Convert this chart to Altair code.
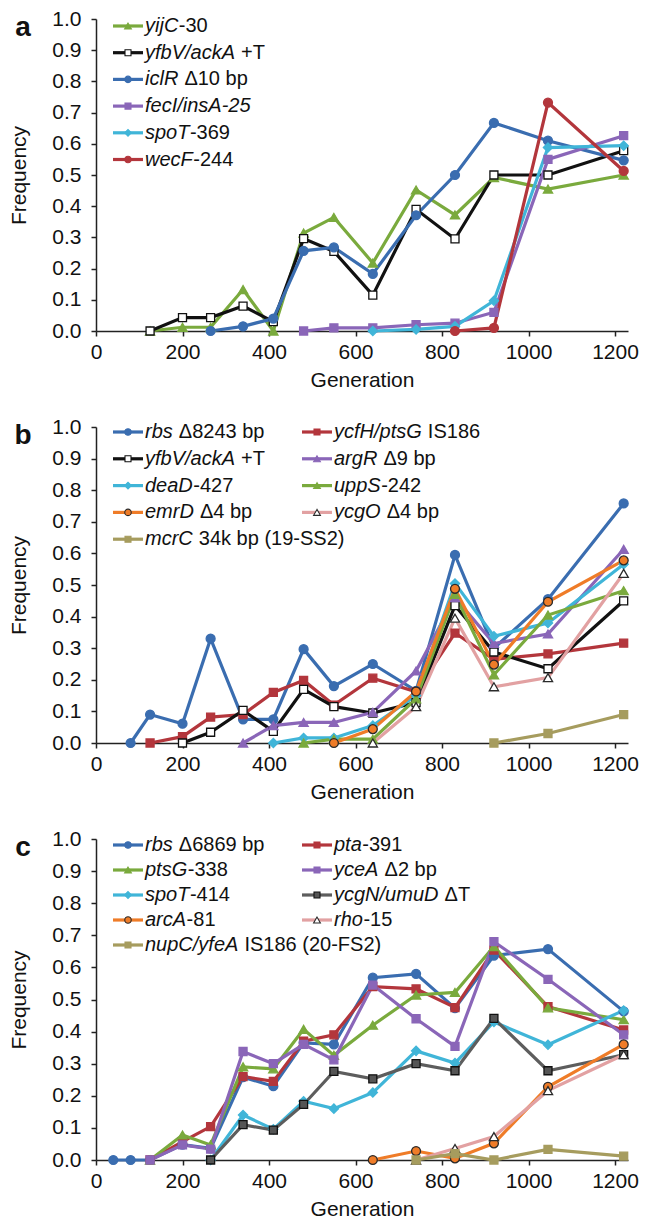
import altair as alt
import pandas as pd

# ---------------- panel a ----------------
a_yijC_gen = [125, 200, 265, 340, 410, 480, 550, 640, 740, 830, 920, 1045, 1220]
a_yijC_freq = [0.0, 0.012, 0.012, 0.133, 0.0, 0.314, 0.364, 0.218, 0.452, 0.372, 0.492, 0.455, 0.500]
a_yfbV_gen = [125, 200, 265, 340, 410, 480, 550, 640, 740, 830, 920, 1045, 1220]
a_yfbV_freq = [0.0, 0.043, 0.043, 0.080, 0.030, 0.296, 0.255, 0.115, 0.390, 0.295, 0.500, 0.500, 0.578]
a_iclR_gen = [265, 340, 410, 480, 550, 640, 740, 830, 920, 1045, 1220]
a_iclR_freq = [0.0, 0.015, 0.040, 0.257, 0.268, 0.183, 0.371, 0.500, 0.667, 0.610, 0.547]
a_fecI_gen = [480, 550, 640, 740, 830, 920, 1045, 1220]
a_fecI_freq = [0.0, 0.010, 0.010, 0.020, 0.025, 0.060, 0.550, 0.626]
a_spoT_gen = [640, 740, 830, 920, 1045, 1220]
a_spoT_freq = [0.0, 0.005, 0.015, 0.097, 0.588, 0.594]
a_wecF_gen = [830, 920, 1045, 1220]
a_wecF_freq = [0.0, 0.010, 0.732, 0.513]

# ---------------- panel b ----------------
b_rbs_gen = [80, 125, 200, 265, 340, 410, 480, 550, 640, 740, 830, 920, 1045, 1220]
b_rbs_freq = [0.0, 0.090, 0.061, 0.330, 0.075, 0.075, 0.297, 0.180, 0.250, 0.165, 0.595, 0.300, 0.455, 0.758]
b_ycfH_gen = [125, 200, 265, 340, 410, 480, 550, 640, 740, 830, 920, 1045, 1220]
b_ycfH_freq = [0.0, 0.020, 0.082, 0.090, 0.160, 0.198, 0.120, 0.205, 0.162, 0.348, 0.265, 0.282, 0.316]
b_yfbV_gen = [200, 265, 340, 410, 480, 550, 640, 740, 830, 920, 1045, 1220]
b_yfbV_freq = [0.0, 0.034, 0.103, 0.037, 0.170, 0.115, 0.095, 0.128, 0.435, 0.288, 0.235, 0.450]
b_argR_gen = [340, 410, 480, 550, 640, 740, 830, 920, 1045, 1220]
b_argR_freq = [0.0, 0.055, 0.065, 0.065, 0.097, 0.228, 0.460, 0.315, 0.345, 0.613]
b_deaD_gen = [410, 480, 550, 640, 740, 830, 920, 1045, 1220]
b_deaD_freq = [0.0, 0.016, 0.016, 0.055, 0.150, 0.505, 0.338, 0.380, 0.566]
b_uppS_gen = [480, 550, 640, 740, 830, 920, 1045, 1220]
b_uppS_freq = [0.0, 0.012, 0.012, 0.140, 0.470, 0.216, 0.405, 0.482]
b_emrD_gen = [550, 640, 740, 830, 920, 1045, 1220]
b_emrD_freq = [0.0, 0.044, 0.163, 0.488, 0.248, 0.447, 0.578]
b_ycgO_gen = [640, 740, 830, 920, 1045, 1220]
b_ycgO_freq = [0.0, 0.115, 0.395, 0.178, 0.207, 0.537]
b_mcrC_gen = [920, 1045, 1220]
b_mcrC_freq = [0.0, 0.030, 0.090]

# ---------------- panel c ----------------
c_rbs_gen = [40, 80, 125, 200, 265, 340, 410, 480, 550, 640, 740, 830, 920, 1045, 1220]
c_rbs_freq = [0.0, 0.0, 0.0, 0.048, 0.036, 0.258, 0.230, 0.365, 0.360, 0.568, 0.580, 0.473, 0.637, 0.657, 0.463]
c_pta_gen = [125, 200, 265, 340, 410, 480, 550, 640, 740, 830, 920, 1045, 1220]
c_pta_freq = [0.0, 0.057, 0.104, 0.260, 0.245, 0.370, 0.390, 0.540, 0.533, 0.475, 0.654, 0.478, 0.405]
c_ptsG_gen = [125, 200, 265, 340, 410, 480, 550, 640, 740, 830, 920, 1045, 1220]
c_ptsG_freq = [0.0, 0.078, 0.047, 0.290, 0.284, 0.407, 0.326, 0.420, 0.514, 0.522, 0.665, 0.474, 0.437]
c_yceA_gen = [125, 200, 265, 340, 410, 480, 550, 640, 740, 830, 920, 1045, 1220]
c_yceA_freq = [0.0, 0.047, 0.034, 0.338, 0.300, 0.360, 0.312, 0.545, 0.440, 0.354, 0.680, 0.563, 0.390]
c_spoT_gen = [265, 340, 410, 480, 550, 640, 740, 830, 920, 1045, 1220]
c_spoT_freq = [0.0, 0.140, 0.096, 0.183, 0.160, 0.210, 0.340, 0.302, 0.430, 0.359, 0.466]
c_ycgN_gen = [265, 340, 410, 480, 550, 640, 740, 830, 920, 1045, 1220]
c_ycgN_freq = [0.0, 0.110, 0.093, 0.173, 0.276, 0.253, 0.300, 0.278, 0.441, 0.278, 0.328]
c_arcA_gen = [640, 740, 830, 920, 1045, 1220]
c_arcA_freq = [0.0, 0.028, 0.005, 0.052, 0.228, 0.360]
c_rho_gen = [740, 830, 920, 1045, 1220]
c_rho_freq = [0.0, 0.036, 0.073, 0.216, 0.328]
c_nupC_gen = [740, 830, 920, 1045, 1220]
c_nupC_freq = [0.0, 0.020, 0.0, 0.033, 0.012]

# legend labels: italic part, roman part
a_label_it = ["yijC", "yfbV/ackA", "iclR", "fecI/insA-25", "spoT", "wecF"]
a_label_rest = ["-30", " +T", " Δ10 bp", "", "-369", "-244"]
b_label_it = ["rbs", "ycfH/ptsG", "yfbV/ackA", "argR", "deaD", "uppS", "emrD", "ycgO", "mcrC"]
b_label_rest = [" Δ8243 bp", " IS186", " +T", " Δ9 bp", "-427", "-242", " Δ4 bp", " Δ4 bp", " 34k bp (19-SS2)"]
c_label_it = ["rbs", "pta", "ptsG", "yceA", "spoT", "ycgN/umuD", "arcA", "rho", "nupC/yfeA"]
c_label_rest = [" Δ6869 bp", "-391", "-338", " Δ2 bp", "-414", " ΔT", "-81", "-15", " IS186 (20-FS2)"]

x_ticks = [0, 200, 400, 600, 800, 1000, 1200]
y_ticks = [0.0, 0.1, 0.2, 0.3, 0.4, 0.5, 0.6, 0.7, 0.8, 0.9, 1.0]

# ---------------- styling ----------------
FONT = "Liberation Sans"
GEN_MAX = 1230
W = 532
BLUE, RED, GREEN, PURPLE = "#3A6DB0", "#B3363C", "#7AAA3D", "#8A66B8"
CYAN, ORANGE, PINK, OLIVE = "#40B5D8", "#EF7C28", "#E2A1A2", "#A69C5E"
BLACK, GREY, DARK = "#111111", "#5D5D5D", "#2a2a2a"

ARIAL = {
    'a': 556, 'b': 556, 'c': 500, 'd': 556, 'e': 556, 'f': 278, 'g': 556, 'h': 556, 'i': 222,
    'j': 222, 'k': 500, 'l': 222, 'm': 833, 'n': 556, 'o': 556, 'p': 556, 'q': 556, 'r': 333,
    's': 500, 't': 278, 'u': 556, 'v': 500, 'w': 722, 'x': 500, 'y': 500, 'z': 500,
    'A': 667, 'B': 667, 'C': 722, 'D': 722, 'E': 667, 'F': 611, 'G': 778, 'H': 722, 'I': 278,
    'J': 500, 'K': 667, 'L': 556, 'M': 833, 'N': 722, 'O': 778, 'P': 667, 'Q': 778, 'R': 722,
    'S': 667, 'T': 611, 'U': 722, 'V': 667, 'W': 944, 'X': 667, 'Y': 667, 'Z': 611,
    ' ': 278, '-': 333, '/': 278, '+': 584, '(': 333, ')': 333, '.': 278,
}


def text_width(s, size):
    return sum(ARIAL.get(ch, 556) for ch in s) * size / 1000.0


def spec(prefix, it, rest, gen, freq, color, shape, fill, stroke):
    return dict(name=prefix + it + rest, it=it, rest=rest, gen=gen, freq=freq,
                color=color, shape=shape, fill=fill, stroke=stroke)


SIZE = {"circle": 80, "square": 64, "triangle-up": 85, "diamond": 85}
LSIZE = {"circle": 42, "square": 36, "triangle-up": 46, "diamond": 46}

series_a = [
    spec("a:", a_label_it[0], a_label_rest[0], a_yijC_gen, a_yijC_freq, GREEN, "triangle-up", GREEN, GREEN),
    spec("a:", a_label_it[1], a_label_rest[1], a_yfbV_gen, a_yfbV_freq, BLACK, "square", "white", BLACK),
    spec("a:", a_label_it[2], a_label_rest[2], a_iclR_gen, a_iclR_freq, BLUE, "circle", BLUE, BLUE),
    spec("a:", a_label_it[3], a_label_rest[3], a_fecI_gen, a_fecI_freq, PURPLE, "square", PURPLE, PURPLE),
    spec("a:", a_label_it[4], a_label_rest[4], a_spoT_gen, a_spoT_freq, CYAN, "diamond", CYAN, CYAN),
    spec("a:", a_label_it[5], a_label_rest[5], a_wecF_gen, a_wecF_freq, RED, "circle", RED, RED),
]
series_b = [
    spec("b:", b_label_it[0], b_label_rest[0], b_rbs_gen, b_rbs_freq, BLUE, "circle", BLUE, BLUE),
    spec("b:", b_label_it[1], b_label_rest[1], b_ycfH_gen, b_ycfH_freq, RED, "square", RED, RED),
    spec("b:", b_label_it[2], b_label_rest[2], b_yfbV_gen, b_yfbV_freq, BLACK, "square", "white", BLACK),
    spec("b:", b_label_it[3], b_label_rest[3], b_argR_gen, b_argR_freq, PURPLE, "triangle-up", PURPLE, PURPLE),
    spec("b:", b_label_it[4], b_label_rest[4], b_deaD_gen, b_deaD_freq, CYAN, "diamond", CYAN, CYAN),
    spec("b:", b_label_it[5], b_label_rest[5], b_uppS_gen, b_uppS_freq, GREEN, "triangle-up", GREEN, GREEN),
    spec("b:", b_label_it[6], b_label_rest[6], b_emrD_gen, b_emrD_freq, ORANGE, "circle", ORANGE, DARK),
    spec("b:", b_label_it[7], b_label_rest[7], b_ycgO_gen, b_ycgO_freq, PINK, "triangle-up", "white", DARK),
    spec("b:", b_label_it[8], b_label_rest[8], b_mcrC_gen, b_mcrC_freq, OLIVE, "square", OLIVE, OLIVE),
]
series_c = [
    spec("c:", c_label_it[0], c_label_rest[0], c_rbs_gen, c_rbs_freq, BLUE, "circle", BLUE, BLUE),
    spec("c:", c_label_it[1], c_label_rest[1], c_pta_gen, c_pta_freq, RED, "square", RED, RED),
    spec("c:", c_label_it[2], c_label_rest[2], c_ptsG_gen, c_ptsG_freq, GREEN, "triangle-up", GREEN, GREEN),
    spec("c:", c_label_it[3], c_label_rest[3], c_yceA_gen, c_yceA_freq, PURPLE, "square", PURPLE, PURPLE),
    spec("c:", c_label_it[4], c_label_rest[4], c_spoT_gen, c_spoT_freq, CYAN, "diamond", CYAN, CYAN),
    spec("c:", c_label_it[5], c_label_rest[5], c_ycgN_gen, c_ycgN_freq, GREY, "square", "#555555", BLACK),
    spec("c:", c_label_it[6], c_label_rest[6], c_arcA_gen, c_arcA_freq, ORANGE, "circle", ORANGE, DARK),
    spec("c:", c_label_it[7], c_label_rest[7], c_rho_gen, c_rho_freq, PINK, "triangle-up", "white", DARK),
    spec("c:", c_label_it[8], c_label_rest[8], c_nupC_gen, c_nupC_freq, OLIVE, "square", OLIVE, OLIVE),
]

LABEL_FS = 21
LEGEND_FS = 20


def panel(series, H, letter, ncols, first_row, row_gap, col_gap=189):
    px = W / GEN_MAX
    xs = alt.Scale(domain=[0, GEN_MAX], nice=False, zero=False)
    ys = alt.Scale(domain=[0, 1], nice=False, zero=False)
    xaxis = alt.Axis(values=x_ticks, format="d", grid=False, tickSize=5, labelPadding=5,
                     titlePadding=7, labelFontSize=LABEL_FS, titleFontSize=LABEL_FS,
                     labelFlush=False)
    yaxis = alt.Axis(values=y_ticks, format=".1f", grid=False, tickSize=5, labelPadding=10,
                     titlePadding=22, labelFontSize=LABEL_FS, titleFontSize=LABEL_FS)

    def X(f):
        return alt.X(f + ":Q", scale=xs, axis=xaxis, title="Generation")

    def Y(f):
        return alt.Y(f + ":Q", scale=ys, axis=yaxis, title="Frequency")

    names = [s["name"] for s in series]
    cscale = alt.Scale(domain=names, range=[s["color"] for s in series])
    fscale = alt.Scale(domain=names, range=[s["fill"] for s in series])
    sscale = alt.Scale(domain=names, range=[s["stroke"] for s in series])
    shscale = alt.Scale(domain=names, range=[s["shape"] for s in series])

    rows = []
    for k, s in enumerate(series):
        for g, f in zip(s["gen"], s["freq"]):
            rows.append({"series": s["name"], "k": k, "gen": g, "freq": f, "msize": SIZE[s["shape"]]})
    df = pd.DataFrame(rows)

    col = alt.Color("series:N", scale=cscale, legend=None)
    fil = alt.Fill("series:N", scale=fscale, legend=None)
    stk = alt.Stroke("series:N", scale=sscale, legend=None)
    shp = alt.Shape("series:N", scale=shscale, legend=None)

    lines = alt.Chart(df).mark_line(strokeWidth=3.2).encode(x=X("gen"), y=Y("freq"), color=col)
    points = alt.Chart(df).mark_point(filled=True, opacity=1, strokeWidth=1.3).encode(
        x=X("gen"), y=Y("freq"), shape=shp, fill=fil, stroke=stk,
        size=alt.Size("msize:Q", scale=None))

    # hand-built legend (italic gene names followed by roman text)
    lrows = []
    for i, s in enumerate(series):
        r, c = divmod(i, ncols)
        x0 = 17 + c * col_gap
        py = first_row + r * row_gap
        tx = x0 + 32
        rest = s["rest"]
        lead = len(rest) - len(rest.lstrip(" "))
        tx2 = tx + text_width(s["it"], LEGEND_FS) + 0.5 + text_width(" " * lead, LEGEND_FS)
        lrows.append({
            "series": s["name"], "lx0": x0 / px, "lx1": (x0 + 30) / px, "lxm": (x0 + 15) / px,
            "ly": 1 - py / H, "tx": tx / px, "tx2": tx2 / px,
            "it": s["it"], "rest": rest.lstrip(" "), "msize": LSIZE[s["shape"]],
        })
    ldf = pd.DataFrame(lrows)
    leg_lines = alt.Chart(ldf).mark_rule(strokeWidth=3.2).encode(
        x=X("lx0"), x2="lx1", y=Y("ly"), color=col)
    leg_pts = alt.Chart(ldf).mark_point(filled=True, opacity=1, strokeWidth=1.1).encode(
        x=X("lxm"), y=Y("ly"), shape=shp, fill=fil, stroke=stk,
        size=alt.Size("msize:Q", scale=None))
    leg_it = alt.Chart(ldf).mark_text(font=FONT, fontSize=LEGEND_FS, fontStyle="italic",
                                      align="left", baseline="middle", color=BLACK).encode(
        x=X("tx"), y=Y("ly"), text="it:N")
    leg_rest = alt.Chart(ldf).mark_text(font=FONT, fontSize=LEGEND_FS, align="left",
                                        baseline="middle", color=BLACK).encode(
        x=X("tx2"), y=Y("ly"), text="rest:N")

    let_df = pd.DataFrame({"t": [letter], "lx": [-73 / px], "ly": [1 - 9 / H]})
    let_layer = alt.Chart(let_df).mark_text(font=FONT, fontSize=28, fontWeight="bold",
                                            align="center", baseline="middle", color=BLACK).encode(
        x=X("lx"), y=Y("ly"), text="t:N")

    return alt.layer(lines, points, leg_lines, leg_pts, leg_it, leg_rest, let_layer).properties(
        width=W, height=H)


pa = panel(series_a, 312, "a", 1, 7, 26.7)
pb = panel(series_b, 316, "b", 2, 5, 26.8)
pc = panel(series_c, 321, "c", 2, 6, 25.0)

chart = alt.vconcat(pa, pb, pc, spacing=26).resolve_scale(
    color="independent", fill="independent", stroke="independent", shape="independent"
).properties(
    padding={"left": 0, "top": 0, "right": 5, "bottom": 0}
).configure_view(stroke=None).configure_axis(
    labelFont=FONT, titleFont=FONT, labelColor=BLACK, titleColor=BLACK,
    titleFontWeight="normal", domainColor="#222222", tickColor="#222222",
    domainWidth=1.5, tickWidth=1.5
)

chart.save("out.html", embed_options={"renderer": "svg", "actions": False})
